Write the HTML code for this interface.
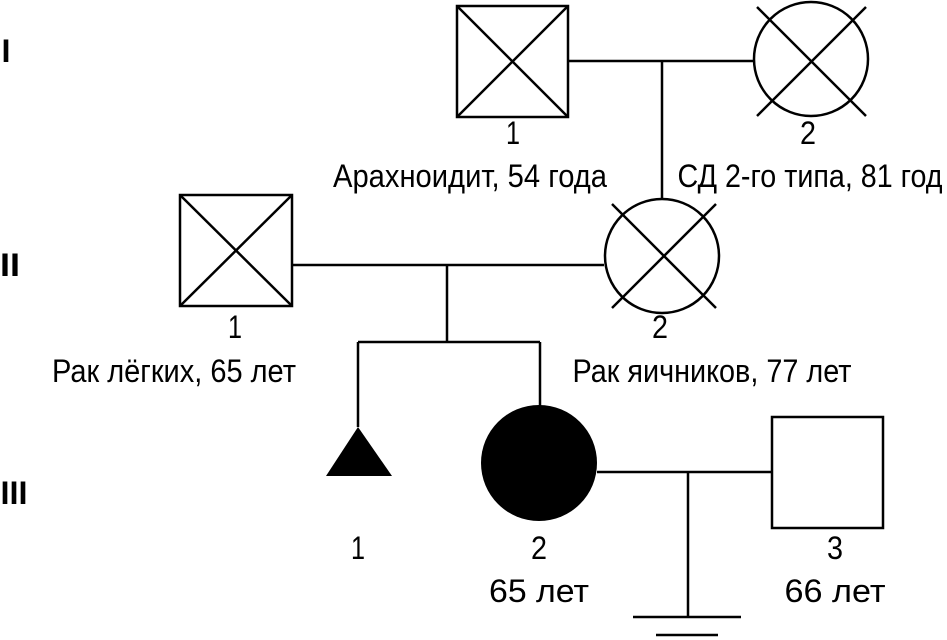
<!DOCTYPE html>
<html><head><meta charset="utf-8"><style>html,body{margin:0;padding:0;background:#fff}svg{display:block}</style></head>
<body>
<svg width="947" height="640" viewBox="0 0 947 640" xmlns="http://www.w3.org/2000/svg">
<g stroke="#000" stroke-width="2.5" fill="none">
<rect x="457" y="6" width="111" height="111"/>
<line x1="457" y1="6" x2="568" y2="117"/><line x1="568" y1="6" x2="457" y2="117"/>
<line x1="568" y1="61" x2="753" y2="61"/>
<line x1="662" y1="61" x2="662" y2="198"/>
<circle cx="811" cy="59" r="57"/>
<line x1="757" y1="7" x2="866" y2="116"/><line x1="866" y1="7" x2="757" y2="116"/>
<rect x="180" y="195" width="112" height="111"/>
<line x1="180" y1="195" x2="292" y2="306"/><line x1="292" y1="195" x2="180" y2="306"/>
<line x1="292" y1="265" x2="604" y2="265"/>
<circle cx="662" cy="256" r="57"/>
<line x1="612" y1="204" x2="716" y2="308"/><line x1="716" y1="204" x2="612" y2="308"/>
<line x1="447" y1="265" x2="447" y2="342"/>
<line x1="358" y1="342" x2="540" y2="342"/>
<line x1="358" y1="342" x2="358" y2="427"/>
<line x1="540" y1="342" x2="540" y2="406"/>
<line x1="597" y1="472" x2="772" y2="472"/>
<rect x="772" y="417" width="111" height="111"/>
<line x1="688" y1="472" x2="688" y2="617"/>
<line x1="633" y1="617" x2="741" y2="617"/>
<line x1="656" y1="635" x2="718" y2="635"/>
</g>
<polygon points="358,427 326,476 392,476" fill="#000"/>
<circle cx="539" cy="463" r="58" fill="#000"/>
<g font-family="Liberation Sans, sans-serif" font-size="32" fill="#000" text-anchor="middle" lengthAdjust="spacingAndGlyphs">
<text x="6" y="62" font-weight="bold" textLength="9" lengthAdjust="spacingAndGlyphs">I</text>
<text x="10" y="276" font-weight="bold" textLength="20" lengthAdjust="spacingAndGlyphs">II</text>
<text x="14" y="504" font-weight="bold" textLength="27" lengthAdjust="spacingAndGlyphs">III</text>
<text x="513" y="144" textLength="14" lengthAdjust="spacingAndGlyphs">1</text>
<text x="470" y="187" textLength="274" lengthAdjust="spacingAndGlyphs">Арахноидит, 54 года</text>
<text x="808" y="144" textLength="16" lengthAdjust="spacingAndGlyphs">2</text>
<text x="810" y="187" textLength="265" lengthAdjust="spacingAndGlyphs">СД 2-го типа, 81 год</text>
<text x="235" y="338" textLength="14" lengthAdjust="spacingAndGlyphs">1</text>
<text x="174" y="382" textLength="244" lengthAdjust="spacingAndGlyphs">Рак лёгких, 65 лет</text>
<text x="660" y="338" textLength="16" lengthAdjust="spacingAndGlyphs">2</text>
<text x="712" y="382" textLength="279" lengthAdjust="spacingAndGlyphs">Рак яичников, 77 лет</text>
<text x="358" y="559" textLength="14" lengthAdjust="spacingAndGlyphs">1</text>
<text x="539" y="559" textLength="16" lengthAdjust="spacingAndGlyphs">2</text>
<text x="539" y="602" textLength="100" lengthAdjust="spacingAndGlyphs">65 лет</text>
<text x="835" y="559" textLength="16" lengthAdjust="spacingAndGlyphs">3</text>
<text x="835" y="602" textLength="101" lengthAdjust="spacingAndGlyphs">66 лет</text>
</g>
</svg>
</body></html>
